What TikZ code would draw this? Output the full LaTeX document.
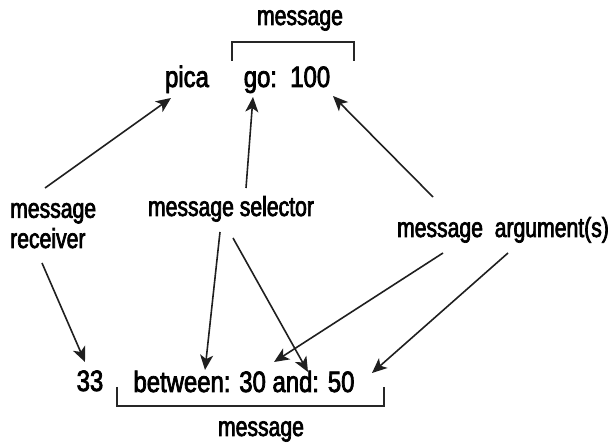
\documentclass[tikz,border=0pt]{standalone}
\usepackage{fontspec}
\setmainfont{Liberation Sans}[FakeStretch=0.77,FakeBold=2.5]
\newfontfamily\bigf{Liberation Sans}[FakeStretch=0.81,FakeBold=2.5]
\usetikzlibrary{arrows.meta}
\begin{document}
\begin{tikzpicture}[x=1pt,y=-1pt,
  lbl/.style={inner sep=0pt,font=\fontsize{27.5}{31}\selectfont},
  txt/.style={inner sep=0pt,font=\bigf\fontsize{29.5}{32}\selectfont},
  arr/.style={line width=1.6pt,draw=black!88,-{Stealth[length=15pt,width=13pt,inset=4pt]}},
  brk/.style={line width=2pt,draw=black!85}]
\useasboundingbox (0,0) rectangle (614,446);
% texts
\node[lbl,anchor=base] (mtop) at (300,25) {message};
\node[txt,anchor=base] (pica) at (187,87) {pica};
\node[txt,anchor=base] (go) at (287,87) {go:\ \ 100};
\node[lbl,anchor=base west,align=left] (recv) at (10,248) {message\\[-0.8pt]receiver};
\node[lbl,anchor=base] (sel) at (231,216) {message selector};
\node[lbl,anchor=base] (argm) at (503,237) {message\ \ argument(s)};
\node[txt,anchor=base] (n33) at (90,391) {33};
\node[txt,anchor=base] (btw) at (244,392) {between: 30 and: 50};
\node[lbl,anchor=base] (mbot) at (261,436) {message};
% brackets
\coordinate (tb1) at (232,61); \coordinate (tb2) at (232,42);
\coordinate (tb3) at (354,42); \coordinate (tb4) at (354,61);
\draw[brk] (tb1) -- (tb2) -- (tb3) -- (tb4);
\coordinate (bb1) at (117,387); \coordinate (bb2) at (117,406);
\coordinate (bb3) at (384,406); \coordinate (bb4) at (384,387);
\draw[brk] (bb1) -- (bb2) -- (bb3) -- (bb4);
% arrow ends
\coordinate (a1s) at (45,188);  \coordinate (a1e) at (171,98);
\coordinate (a2s) at (246,188); \coordinate (a2e) at (253,97);
\coordinate (a3s) at (433,197); \coordinate (a3e) at (333,96);
\coordinate (a4s) at (42,263);  \coordinate (a4e) at (85,362);
\coordinate (a5s) at (220,232); \coordinate (a5e) at (205,370);
\coordinate (a6s) at (233,238); \coordinate (a6e) at (308,372);
\coordinate (a7s) at (443,253); \coordinate (a7e) at (274,362);
\coordinate (a8s) at (508,253); \coordinate (a8e) at (372,373);
\draw[arr] (a1s) -- (a1e);
\draw[arr] (a2s) -- (a2e);
\draw[arr] (a3s) -- (a3e);
\draw[arr] (a4s) -- (a4e);
\draw[arr] (a5s) -- (a5e);
\draw[arr] (a6s) -- (a6e);
\draw[arr] (a7s) -- (a7e);
\draw[arr] (a8s) -- (a8e);
\end{tikzpicture}
\end{document}
